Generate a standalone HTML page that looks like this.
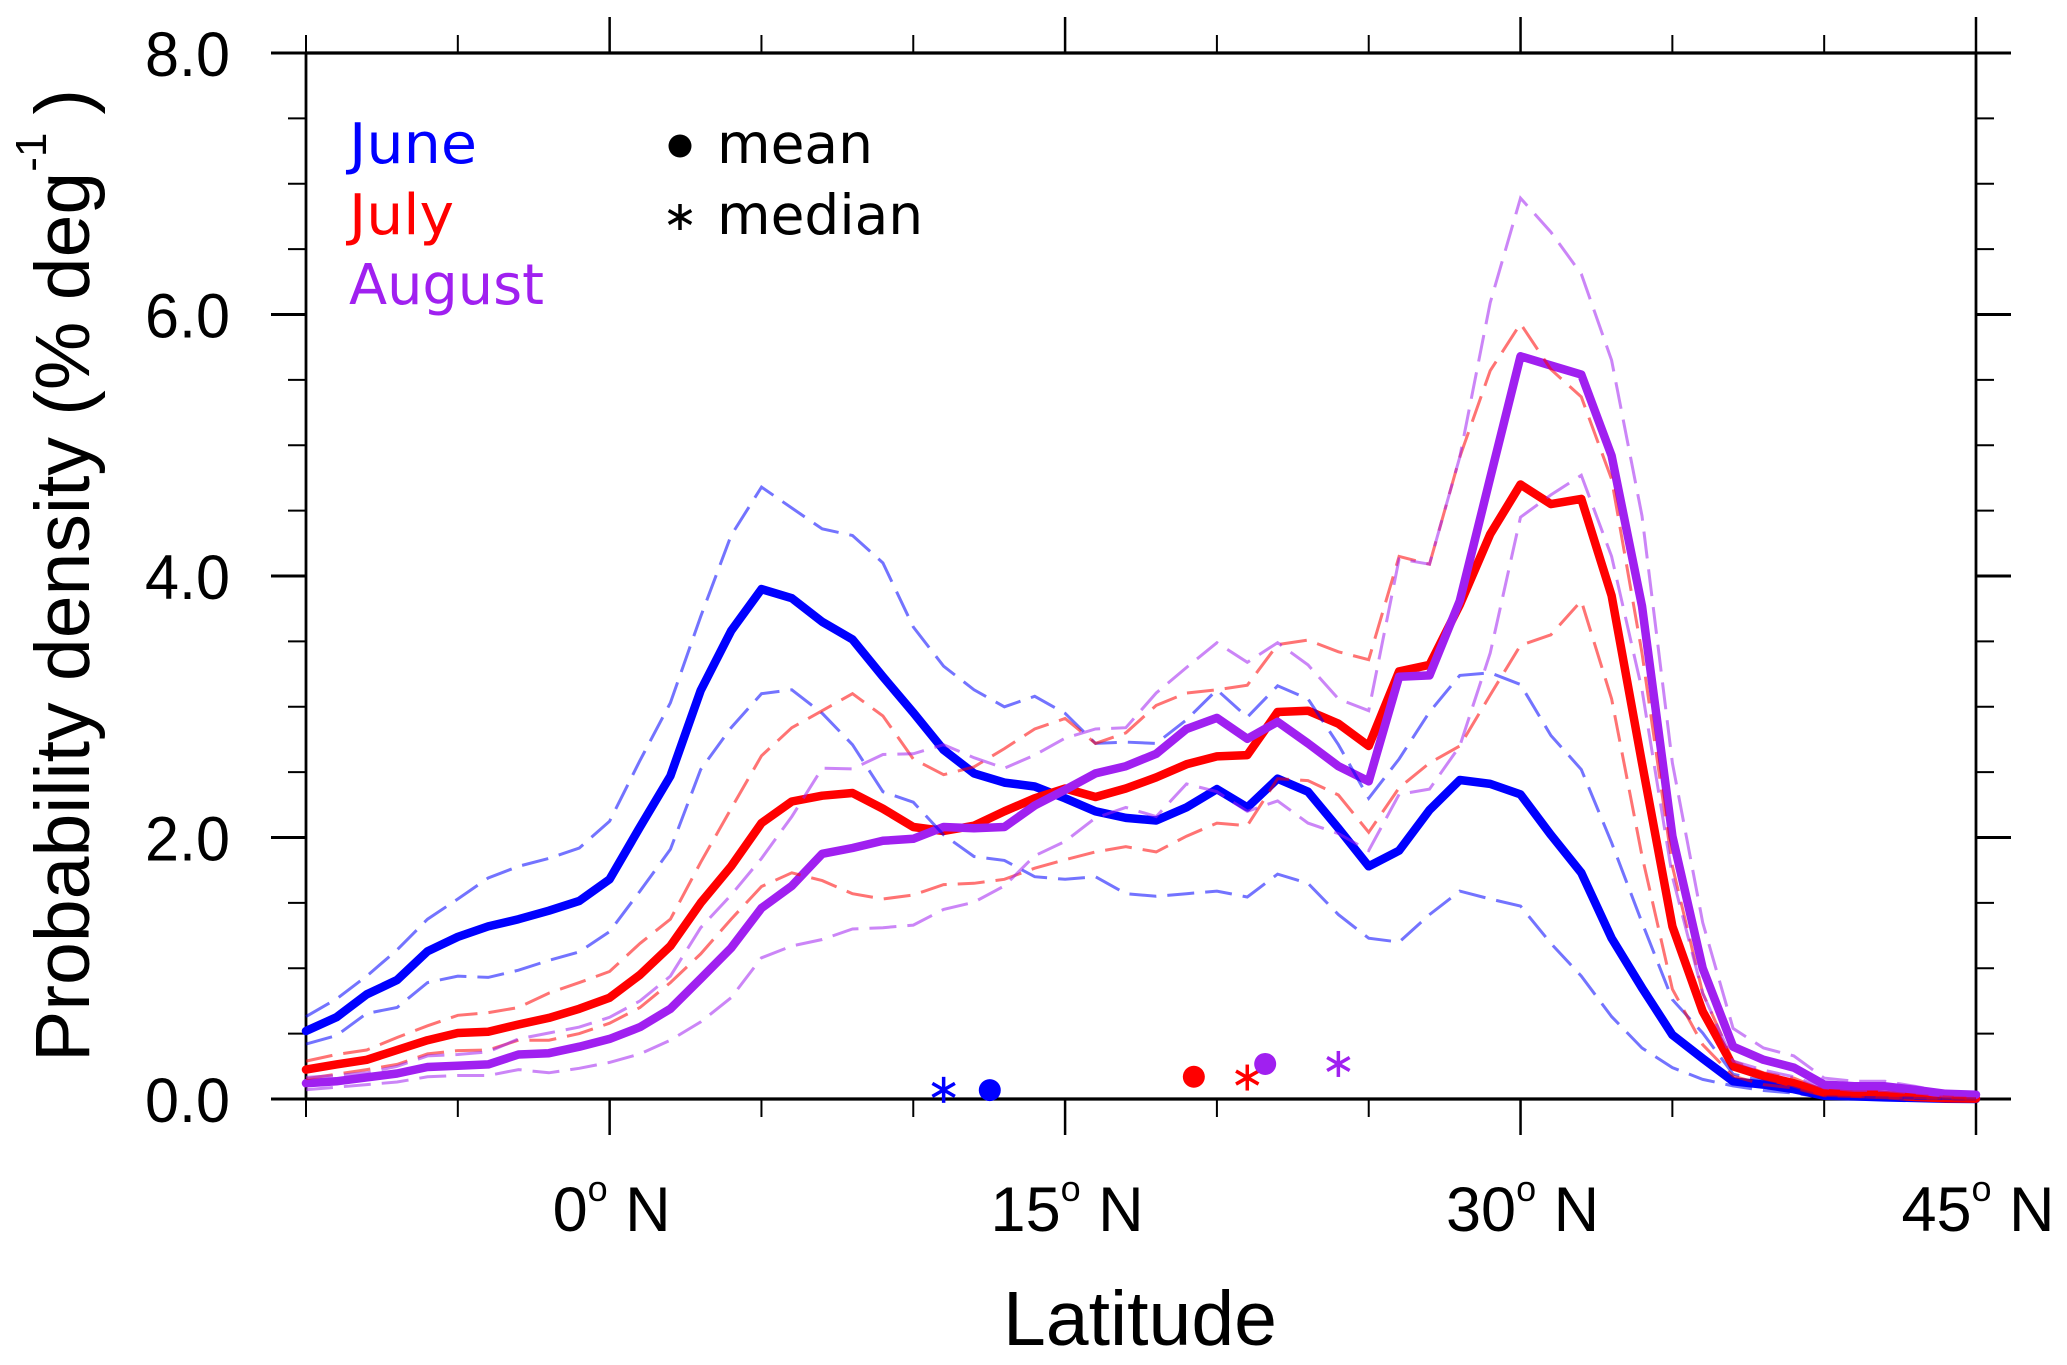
<!DOCTYPE html>
<html lang="en">
<head>
<meta charset="utf-8">
<title>Probability density by latitude</title>
<style>
html,body{margin:0;padding:0;background:#fff;width:2067px;height:1365px;overflow:hidden}
svg{display:block}
.sans{font-family:"Liberation Sans",sans-serif;fill:#000}
.dejavu{font-family:"DejaVu Sans",sans-serif}
</style>
</head>
<body>
<svg id="chart" xmlns="http://www.w3.org/2000/svg" width="2067" height="1365" viewBox="0 0 2067 1365">
  <rect x="0" y="0" width="2067" height="1365" fill="#ffffff"/>
  <g id="axes"></g>
  <g id="means"></g>
  <g id="ranges"></g>
  <g id="markers"></g>
  <text class="sans" x="1140" y="1345" font-size="77" text-anchor="middle">Latitude</text>
  <text class="sans" transform="translate(89,1062) rotate(-90)" font-size="77">Probability density (% deg<tspan font-size="44" dy="-43">-1</tspan><tspan dy="43" dx="18">)</tspan></text>
  <g>
    <text class="dejavu" x="349" y="163" font-size="56" fill="#0000ff" textLength="128" lengthAdjust="spacingAndGlyphs">June</text>
    <text class="dejavu" x="349" y="234" font-size="56" fill="#ff0000" textLength="105" lengthAdjust="spacingAndGlyphs">July</text>
    <text class="dejavu" x="349" y="304" font-size="56" fill="#a020f0" textLength="195" lengthAdjust="spacingAndGlyphs">August</text>
    <circle cx="680" cy="146" r="11.5" fill="#000"/>
    <text class="dejavu" x="717" y="163" font-size="55" fill="#000">mean</text>
    <g stroke="#000" stroke-width="3.5">
      <line x1="680" y1="204" x2="680" y2="230"/>
      <line x1="668.7" y1="210.5" x2="691.3" y2="223.5"/>
      <line x1="668.7" y1="223.5" x2="691.3" y2="210.5"/>
    </g>
    <text class="dejavu" x="717" y="234" font-size="55" fill="#000">median</text>
  </g>
</svg>
<script>
const latitudes = [-10,-9,-8,-7,-6,-5,-4,-3,-2,-1,0,1,2,3,4,5,6,7,8,9,10,11,12,13,14,15,16,17,18,19,20,21,22,23,24,25,26,27,28,29,30,31,32,33,34,35,36,37,38,39,40,41,42,43,44,45];

const juneMean = [.52,.625,.80,.91,1.13,1.24,1.32,1.375,1.44,1.515,1.68,2.08,2.47,3.125,3.58,3.90,3.83,3.65,3.515,3.23,2.955,2.67,2.49,2.42,2.39,2.30,2.20,2.15,2.13,2.23,2.37,2.23,2.45,2.35,2.07,1.78,1.90,2.21,2.44,2.41,2.33,2.02,1.73,1.23,.85,.49,.31,.135,.11,.075,.025,.02,.012,.008,.002,0];
const julyMean = [.225,.265,.30,.375,.45,.505,.515,.57,.62,.69,.775,.95,1.17,1.5,1.78,2.11,2.275,2.32,2.34,2.22,2.08,2.05,2.09,2.20,2.30,2.375,2.31,2.375,2.46,2.56,2.62,2.63,2.96,2.97,2.87,2.70,3.27,3.32,3.78,4.32,4.70,4.55,4.59,3.85,2.57,1.32,.67,.25,.175,.12,.05,.04,.03,.015,.005,.003];
const augustMean = [.12,.135,.165,.195,.245,.255,.265,.34,.35,.40,.46,.55,.69,.92,1.155,1.46,1.63,1.875,1.92,1.975,1.99,2.08,2.07,2.08,2.245,2.365,2.49,2.545,2.64,2.83,2.915,2.755,2.885,2.72,2.545,2.43,3.23,3.24,3.81,4.75,5.68,5.61,5.54,4.92,3.77,2.01,1.0,.40,.30,.24,.11,.097,.097,.07,.04,.033];

const juneUpper = [.63,.765,.94,1.14,1.375,1.53,1.69,1.78,1.84,1.92,2.125,2.59,3.03,3.69,4.31,4.68,4.52,4.36,4.31,4.10,3.61,3.31,3.13,3.0,3.08,2.95,2.72,2.73,2.72,2.90,3.13,2.92,3.16,3.06,2.71,2.30,2.6,2.96,3.24,3.26,3.17,2.78,2.52,1.96,1.35,.76,.505,.19,.135,.085,.015,.012,.01,.006,.003,0];
const juneLower = [.42,.485,.655,.70,.89,.94,.93,.985,1.06,1.125,1.28,1.59,1.91,2.52,2.84,3.1,3.13,2.95,2.71,2.35,2.27,2.02,1.855,1.825,1.70,1.68,1.70,1.57,1.55,1.57,1.59,1.545,1.72,1.65,1.41,1.23,1.20,1.41,1.59,1.53,1.475,1.19,.94,.63,.39,.24,.15,.10,.065,.045,.01,.008,.006,.004,.002,0];
const julyUpper = [.29,.34,.375,.47,.56,.64,.66,.70,.81,.89,.975,1.19,1.375,1.81,2.22,2.625,2.84,2.97,3.10,2.93,2.60,2.48,2.54,2.68,2.83,2.91,2.72,2.80,3.01,3.105,3.13,3.165,3.475,3.51,3.42,3.36,4.15,4.09,4.91,5.57,5.93,5.58,5.37,4.74,3.41,1.78,.81,.29,.20,.16,.065,.055,.05,.03,.015,.005];
const julyLower = [.155,.19,.225,.265,.345,.37,.375,.45,.45,.50,.58,.70,.89,1.11,1.375,1.625,1.73,1.67,1.57,1.53,1.56,1.64,1.65,1.68,1.765,1.83,1.89,1.93,1.89,2.01,2.11,2.09,2.45,2.435,2.325,2.04,2.38,2.57,2.70,3.09,3.47,3.55,3.81,3.06,1.86,.84,.415,.175,.11,.085,.025,.02,.012,.01,.005,.003];
const augustUpper = [.165,.18,.20,.25,.33,.34,.36,.46,.505,.55,.625,.75,.94,1.31,1.56,1.84,2.16,2.53,2.525,2.635,2.64,2.71,2.61,2.53,2.63,2.76,2.83,2.84,3.105,3.30,3.49,3.34,3.49,3.32,3.06,2.97,4.13,4.09,4.91,6.09,6.89,6.63,6.31,5.65,4.46,2.57,1.35,.54,.39,.33,.16,.135,.135,.097,.05,.04];
const augustLower = [.07,.09,.11,.13,.17,.18,.18,.225,.20,.235,.28,.345,.45,.59,.775,1.08,1.17,1.22,1.30,1.31,1.33,1.45,1.505,1.63,1.86,1.97,2.15,2.23,2.16,2.41,2.35,2.20,2.28,2.11,2.03,1.90,2.33,2.37,2.7,3.41,4.45,4.62,4.77,4.15,3.13,1.70,.81,.29,.22,.17,.085,.065,.065,.045,.03,.025];

const monthNames = ["june","july","august"];
const monthColors = ["#0000ff","#ff0000","#a020f0"];
const meanLatitudes = [12.52,19.24,21.59];
const meanDensities = [.068,.17,.268];
const medianLatitudes = [11.0,21.0,24.0];
const medianDensities = [.07,.164,.268];

const xTickValues = [-10,-5,0,5,10,15,20,25,30,35,40,45];
const xMajorTicks = [0,15,30,45];
const xTickLabels = ["0","15","30","45"];
const yTickValues = [0,.5,1,1.5,2,2.5,3,3.5,4,4.5,5,5.5,6,6.5,7,7.5,8];
const yMajorTicks = [0,2,4,6,8];
const yTickLabels = ["0.0","2.0","4.0","6.0","8.0"];

const NS = "http://www.w3.org/2000/svg";
function xScale(lat){ return 306 + (lat + 10) * (1976 - 306) / 55; }
function yScale(v){ return 1099 - v * (1099 - 53) / 8; }
function make(tag, parent){ const el = document.createElementNS(NS, tag); parent.appendChild(el); return el; }
function setLine(el, x1, y1, x2, y2, w){
  el.setAttribute("x1", x1); el.setAttribute("y1", y1);
  el.setAttribute("x2", x2); el.setAttribute("y2", y2);
  el.setAttribute("stroke", "#000"); el.setAttribute("stroke-width", w);
}
function pointsFor(values){ return values.map(function(v, i){ return xScale(latitudes[i]).toFixed(1) + "," + yScale(v).toFixed(1); }).join(" "); }

const axes = document.getElementById("axes");
const frameData = [["axis-left",306,53,306,1099,2.8],["axis-right",1976,53,1976,1099,2.8],["axis-top",306,53,1976,53,3.2],["axis-bottom",306,1099,1976,1099,3.2]];
frameData.forEach(function(f){
  const l = make("line", axes);
  setLine(l, f[1], f[2], f[3], f[4], f[5]);
  
  
});
xTickValues.forEach(function(t){
  const major = xMajorTicks.indexOf(t) >= 0;
  const len = major ? 36 : 18;
  const x = xScale(t);
  const b = make("line", axes);
  setLine(b, x, yScale(0), x, yScale(0) + len, major ? 2.5 : 2);
  
  
  const u = make("line", axes);
  setLine(u, x, yScale(8), x, yScale(8) - len, major ? 2.5 : 2);
  
  
});
yTickValues.forEach(function(t){
  const major = yMajorTicks.indexOf(t) >= 0;
  const len = major ? 35 : 18;
  const y = yScale(t);
  const l = make("line", axes);
  setLine(l, xScale(-10), y, xScale(-10) - len, y, major ? 3 : 2);
  
  
  const r = make("line", axes);
  setLine(r, xScale(45), y, xScale(45) + len, y, major ? 3 : 2);
  
  
});
yMajorTicks.forEach(function(t, i){
  const el = make("text", axes);
  el.setAttribute("class", "sans");
  el.setAttribute("x", 230);
  el.setAttribute("y", yScale(t) + 23);
  el.setAttribute("font-size", 63);
  el.setAttribute("text-anchor", "end");
  el.setAttribute("textLength", 85);
  el.setAttribute("lengthAdjust", "spacingAndGlyphs");
  el.textContent = yTickLabels[i];
  
  
});
xMajorTicks.forEach(function(t, i){
  const el = make("text", axes);
  el.setAttribute("class", "sans");
  el.setAttribute("x", xScale(t) + 2);
  el.setAttribute("y", 1231);
  el.setAttribute("font-size", 63);
  el.setAttribute("text-anchor", "middle");
  
  
  const num = make("tspan", el);
  num.textContent = xTickLabels[i];
  const deg = make("tspan", el);
  deg.setAttribute("font-size", 36);
  deg.setAttribute("dy", -30);
  deg.textContent = "o";
  const hemi = make("tspan", el);
  hemi.setAttribute("dy", 30);
  hemi.textContent = " N";
});

const meanGroup = document.getElementById("means");
[juneMean, julyMean, augustMean].forEach(function(values, m){
  const p = make("polyline", meanGroup);
  p.setAttribute("points", pointsFor(values));
  p.setAttribute("fill", "none");
  p.setAttribute("stroke", monthColors[m]);
  p.setAttribute("stroke-width", 8.5);
  p.setAttribute("stroke-linecap", "round");
  p.setAttribute("stroke-linejoin", "round");
  
  
});

const rangeGroup = document.getElementById("ranges");
[[juneUpper,juneLower],[julyUpper,julyLower],[augustUpper,augustLower]].forEach(function(pair, m){
  pair.forEach(function(values, k){
    const p = make("polyline", rangeGroup);
    p.setAttribute("points", pointsFor(values));
    p.setAttribute("fill", "none");
    p.setAttribute("stroke", monthColors[m]);
    p.setAttribute("stroke-opacity", 0.55);
    p.setAttribute("stroke-width", 3);
    p.setAttribute("stroke-dasharray", "27 11");
    
    
  });
});

const markerGroup = document.getElementById("markers");
monthNames.forEach(function(name, m){
  const c = make("circle", markerGroup);
  c.setAttribute("cx", xScale(meanLatitudes[m]));
  c.setAttribute("cy", yScale(meanDensities[m]));
  c.setAttribute("r", 11);
  c.setAttribute("fill", monthColors[m]);
  
  

  const g = make("g", markerGroup);
  g.setAttribute("stroke", monthColors[m]);
  
  
  const cx = xScale(medianLatitudes[m]);
  const cy = yScale(medianDensities[m]);
  [90, 30, 150].forEach(function(deg){
    const a = deg * Math.PI / 180;
    const l = make("line", g);
    l.setAttribute("x1", cx - 13 * Math.cos(a));
    l.setAttribute("y1", cy - 13 * Math.sin(a));
    l.setAttribute("x2", cx + 13 * Math.cos(a));
    l.setAttribute("y2", cy + 13 * Math.sin(a));
    l.setAttribute("stroke-width", 3.5);
    
    
  });
});
</script>
</body>
</html>
